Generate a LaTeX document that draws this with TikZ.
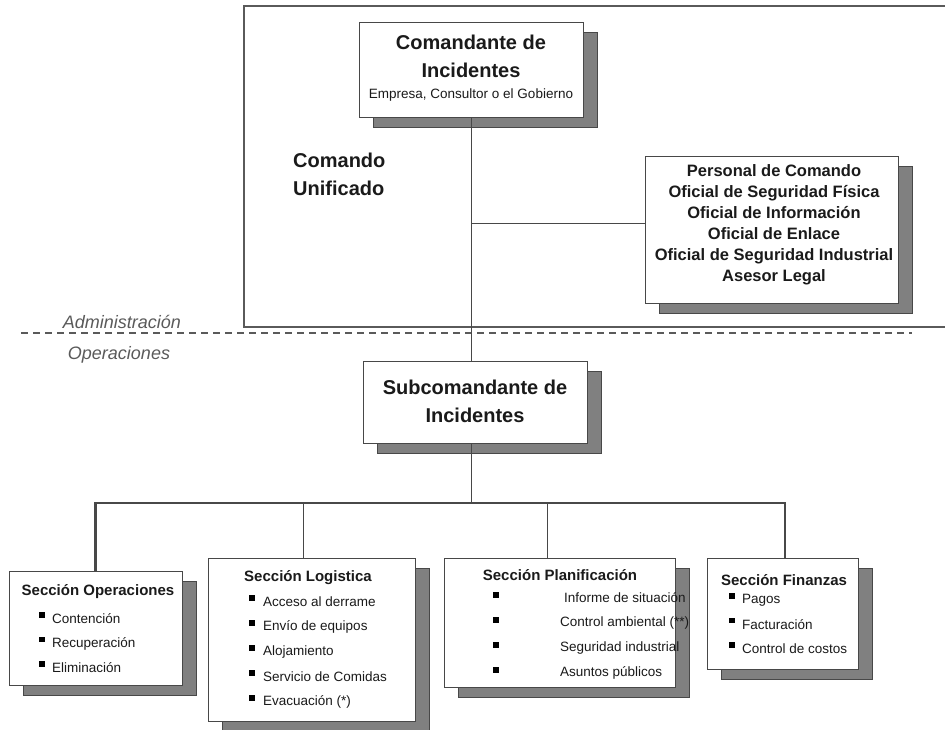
\documentclass[tikz,border=0pt]{standalone}
\usepackage{fontspec}
\setmainfont{Liberation Sans}
\usetikzlibrary{shadows}
\definecolor{linegray}{HTML}{484848}
\definecolor{shadegray}{HTML}{808080}
\definecolor{inkgray}{HTML}{1A1A1A}
\definecolor{notegray}{HTML}{5A5A5A}

\begin{document}
\begin{tikzpicture}[x=1pt, y=-1pt,
    box/.style={draw=linegray, line width=1pt, fill=white, inner sep=0pt,
        general shadow={shadow xshift=14pt, shadow yshift=-10pt, fill=shadegray, draw=linegray, line width=0.8pt}},
    bigtitle/.style={font=\fontsize{20}{28}\selectfont\bfseries, text=inkgray, align=center, inner sep=0pt},
    sectitle/.style={font=\fontsize{15}{18}\selectfont\bfseries, text=inkgray, inner sep=0pt},
    listitem/.style={font=\fontsize{13.5}{16}\selectfont, text=inkgray, anchor=west, inner sep=0pt},
    bulletmark/.style={fill=black, minimum size=5.5pt, inner sep=0pt},
    link/.style={draw=linegray, line width=0.9pt},
    buslink/.style={draw=linegray, line width=2.4pt},
    note/.style={font=\fontsize{18}{20}\selectfont\itshape, text=notegray, inner sep=0pt}
]
    \useasboundingbox (0,0) rectangle (945,729);

    % Unified command frame and admin / operations split
    \draw[notegray, line width=1.4pt] (950,6) -- (244,6) -- (244,327) -- (950,327);
    \draw[notegray, line width=1.3pt, dash pattern=on 7pt off 5pt] (21,333) -- (912,333);
    \node[note] (admin) at (122,322) {Administración};
    \node[note] (oper) at (119,355) {Operaciones};
    \node[bigtitle, anchor=west, align=left] (unif) at (293,174) {Comando\\Unificado};

    % Incident commander
    \node[box, minimum width=224pt, minimum height=95pt] (cmd) at (471,69.5) {};
    \node[bigtitle] (cmdtitle) at (471,56) {Comandante de\\Incidentes};
    \node[font=\fontsize{13.5}{16}\selectfont, text=inkgray, inner sep=0pt] (cmdsub) at (471,95) {Empresa, Consultor o el Gobierno};

    % Command staff
    \node[box, minimum width=253pt, minimum height=147pt] (staff) at (771.5,229.5) {};
    \node[font=\fontsize{16.5}{21}\selectfont\bfseries, text=inkgray, align=center, inner sep=0pt] (stafftext) at (774,225) {
        Personal de Comando\\
        Oficial de Seguridad Física\\
        Oficial de Información\\
        Oficial de Enlace\\
        Oficial de Seguridad Industrial\\
        Asesor Legal};

    % Deputy commander
    \node[box, minimum width=224pt, minimum height=82pt] (sub) at (475,402) {};
    \node[bigtitle] (subtitle) at (475,401.5) {Subcomandante de\\Incidentes};

    % Sections
    \node[box, minimum width=173pt, minimum height=114pt] (secop) at (95.5,628) {};
    \node[box, minimum width=207pt, minimum height=163pt] (seclog) at (311.5,639.5) {};
    \node[box, minimum width=231pt, minimum height=129pt] (secplan) at (559.5,622.5) {};
    \node[box, minimum width=151pt, minimum height=111pt] (secfin) at (782.5,613.5) {};

    % Connectors
    \coordinate (tee) at (471,223);
    \coordinate (busmid) at (471,503);
    \draw[link] (cmd.south) -- (cmd.south |- sub.north);
    \draw[link] (tee) -- (tee -| staff.west);
    \draw[link] (cmd.south |- sub.south) -- (busmid);
    \draw[buslink, line cap=rect] (secop.north |- busmid) -- ([xshift=2.5pt]secfin.north |- busmid);
    \draw[buslink] (secop.north |- busmid) -- (secop.north);
    \draw[link] ([xshift=-8.5pt]seclog.north |- busmid) -- ([xshift=-8.5pt]seclog.north);
    \draw[link] ([xshift=-12.5pt]secplan.north |- busmid) -- ([xshift=-12.5pt]secplan.north);
    \draw[buslink] ([xshift=2.5pt]secfin.north |- busmid) -- ([xshift=2.5pt]secfin.north);

    % Section titles
    \node[sectitle] (optitle) at (98,592) {Sección Operaciones};
    \node[sectitle] (logtitle) at (308,578) {Sección Logistica};
    \node[sectitle] (plantitle) at (560,575) {Sección Planificación};
    \node[sectitle] (fintitle) at (784,580) {Sección Finanzas};

    % Section items
    \foreach \txt [count=\i] in {Contención, Recuperación, Eliminación} {
        \node[bulletmark] (opb\i) at (42,{615+24.5*(\i-1)}) {};
        \node[listitem] (opi\i) at (52,{619+24.5*(\i-1)}) {\txt};
    }
    \foreach \txt [count=\i] in {Acceso al derrame, Envío de equipos, Alojamiento, Servicio de Comidas, {Evacuación (*)}} {
        \node[bulletmark] (logb\i) at (252,{598+25*(\i-1)}) {};
        \node[listitem] (logi\i) at (263,{602+25*(\i-1)}) {\txt};
    }
    \begin{scope}
        \clip (440,585) rectangle (688,690);
        \foreach \txt/\xs [count=\i] in {Informe de situación/564, Control ambiental (**)/560, Seguridad industrial/560, Asuntos públicos/560} {
            \node[bulletmark] (planb\i) at (496,{595+25*(\i-1)}) {};
            \node[listitem] (plani\i) at (\xs,{598+25*(\i-1)}) {\txt};
        }
    \end{scope}
    \foreach \txt [count=\i] in {Pagos, Facturación, Control de costos} {
        \node[bulletmark] (finb\i) at (732,{596+24.5*(\i-1)}) {};
        \node[listitem] (fini\i) at (742,{600+24.5*(\i-1)}) {\txt};
    }
\end{tikzpicture}
\end{document}
